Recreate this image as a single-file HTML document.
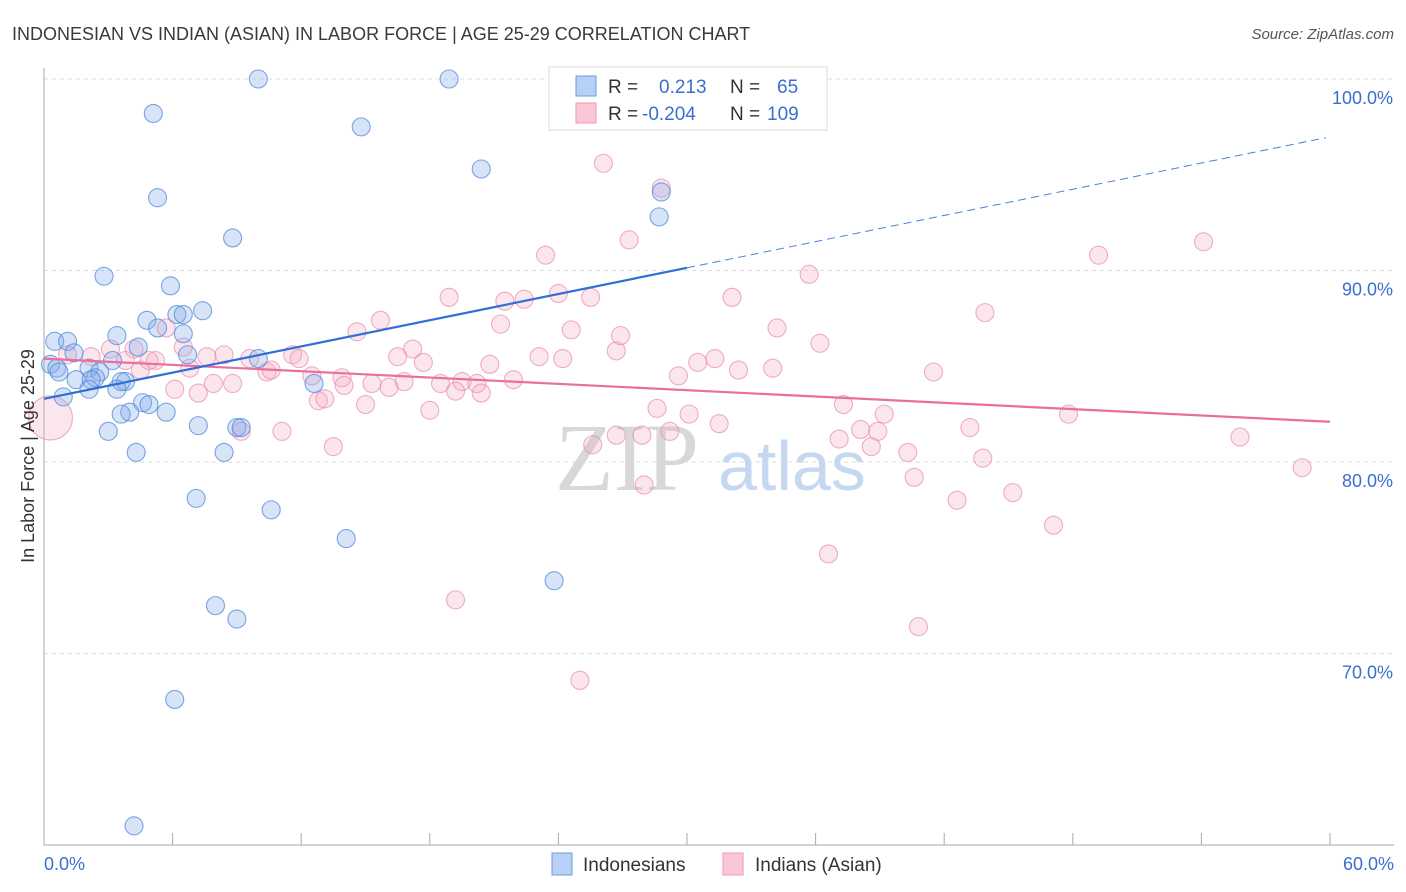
<!DOCTYPE html>
<html><head><meta charset="utf-8"><style>
body{margin:0;background:#fff;font-family:"Liberation Sans",sans-serif}
svg{display:block}
</style></head><body>
<svg id="chart" width="1406" height="892" viewBox="0 0 1406 892" xmlns="http://www.w3.org/2000/svg">
<text x="12" y="40" font-size="18" fill="#3a3a3a">INDONESIAN VS INDIAN (ASIAN) IN LABOR FORCE | AGE 25-29 CORRELATION CHART</text>
<text x="1394" y="39" font-size="15" fill="#555" font-style="italic" text-anchor="end">Source: ZipAtlas.com</text>
<g id="grid"></g>
<g>
<text x="555" y="490" font-size="96" font-family="Liberation Serif,serif" fill="#d8d8d8">ZIP</text>
<text x="718" y="490" font-size="70" fill="#c6d8ef">atlas</text>
</g>
<g id="axes"></g>
<g id="pinkPts"></g>
<g id="bluePts"></g>
<g id="trends"></g>
<text transform="translate(34,456) rotate(-90)" font-size="18" fill="#333" text-anchor="middle">In Labor Force | Age 25-29</text>
<g>
<rect x="549" y="67" width="278" height="63" fill="#fff" stroke="#ddd"/>
<rect x="576" y="76" width="20" height="20" fill="#b7d0f3" stroke="#6b9be0"/>
<rect x="576" y="103" width="20" height="20" fill="#f9c7d6" stroke="#ee9ab6"/>
<text x="608" y="93" font-size="19" fill="#333">R = <tspan fill="#3a6fd0" x="659">0.213</tspan><tspan x="730" fill="#333">N = </tspan><tspan x="777" fill="#3a6fd0">65</tspan></text>
<text x="608" y="120" font-size="19" fill="#333">R = <tspan fill="#3a6fd0" x="642">-0.204</tspan><tspan x="730" fill="#333">N = </tspan><tspan x="767" fill="#3a6fd0">109</tspan></text>
</g>
<g>
<rect x="552" y="853" width="20" height="22" fill="#b7d0f3" stroke="#6b9be0"/>
<text x="583" y="871" font-size="19" fill="#333">Indonesians</text>
<rect x="723" y="853" width="20" height="22" fill="#f9c7d6" stroke="#ee9ab6"/>
<text x="755" y="871" font-size="19" fill="#333">Indians (Asian)</text>
</g>
</svg>
<script>
const yTicks=[100,90,80,70];
const yTickLabels=["100.0%","90.0%","80.0%","70.0%"];
const xTicks=[0,6,12,18,24,30,36,42,48,54,60];
const xEndLabels=["0.0%","60.0%"];
const blueX=[10.0,18.9,5.1,14.8,5.3,20.4,28.8,28.7,8.8,2.8,5.9,7.4,6.2,6.5,4.8,5.3,6.5,3.4,0.5,1.1,4.4,6.7,10.0,3.2,1.4,0.3,0.6,0.7,2.1,2.6,2.4,1.5,2.2,3.8,3.6,2.1,3.4,12.6,0.9,4.6,4.9,5.7,4.0,3.6,7.2,9.0,9.2,3.0,4.3,8.4,7.1,10.6,14.1,23.8,8.0,9.0,6.1,4.2];
const blueY=[100,100,98.2,97.5,93.8,95.3,94.1,92.8,91.7,89.7,89.2,87.9,87.7,87.7,87.4,87.0,86.7,86.6,86.3,86.3,86.0,85.6,85.4,85.3,85.7,85.1,84.9,84.7,84.9,84.7,84.4,84.3,84.3,84.2,84.2,83.8,83.8,84.1,83.4,83.1,83.0,82.6,82.6,82.5,81.9,81.8,81.8,81.6,80.5,80.5,78.1,77.5,76.0,73.8,72.5,71.8,67.6,61.0];
const pinkX=[26.1,28.8,27.3,23.4,35.7,49.2,54.1,18.9,21.5,22.4,24.0,25.5,32.1,43.9,15.7,21.3,14.6,24.6,26.9,34.2,36.2,5.7,6.5,17.2,26.7,23.1,24.2,16.5,17.7,20.8,30.5,31.3,11.6,11.9,9.6,8.4,7.6,3.1,4.2,2.2,1.1,5.2,3.8,4.5,4.9,6.8,10.4,10.6,32.4,34.0,41.5,29.6,12.5,13.9,15.3,16.8,14.0,16.1,7.9,8.8,18.5,19.5,20.2,21.9,6.1,7.2,19.2,20.4,12.8,13.1,15.0,18.0,28.6,30.1,31.5,37.3,39.2,47.8,9.2,11.1,13.5,26.7,27.9,29.2,37.1,38.1,38.9,43.2,55.8,25.6,38.6,40.3,43.8,40.6,58.7,28.0,42.6,45.2,47.1,36.6,19.2,40.8,25.0,0.3];
const pinkY=[95.6,94.3,91.6,90.8,89.8,90.8,91.5,88.6,88.4,88.5,88.8,88.6,88.6,87.8,87.4,87.2,86.8,86.9,86.6,87.0,86.2,87.0,86.0,85.9,85.8,85.5,85.4,85.5,85.2,85.1,85.2,85.4,85.6,85.4,85.4,85.6,85.5,85.9,85.9,85.5,85.6,85.3,85.3,84.8,85.3,84.9,84.7,84.8,84.8,84.9,84.7,84.5,84.5,84.4,84.1,84.2,84.0,83.9,84.1,84.1,84.1,84.2,84.1,84.3,83.8,83.6,83.7,83.6,83.2,83.3,83.0,82.7,82.8,82.5,82.0,83.0,82.5,82.5,81.6,81.6,80.8,81.4,81.4,81.6,81.2,81.7,81.6,81.8,81.3,80.9,80.8,80.5,80.2,79.2,79.7,78.8,78.0,78.4,76.7,75.2,72.8,71.4,68.6,82.3];
const blueTrend=[83.3,0.228];
const pinkTrend=[85.4,-0.055];
const NS="http://www.w3.org/2000/svg";
function xs(v){return 44+v*(1330-44)/60;}
function ys(v){return 845-(v-60)*(845-79)/40;}
function mk(tag,attrs,parent){const e=document.createElementNS(NS,tag);for(const k in attrs)e.setAttribute(k,attrs[k]);parent.appendChild(e);return e;}
const grid=document.getElementById('grid'),axes=document.getElementById('axes');
yTicks.forEach((t,i)=>{
  const l=mk('line',{x1:44,x2:1394,y1:ys(t),y2:ys(t),stroke:'#ddd','stroke-dasharray':'4,4'},grid);
  
  
  const tx=mk('text',{x:1393,y:ys(t)+25,'font-size':18,fill:'#3a6fd0','text-anchor':'end'},axes);
  tx.textContent=yTickLabels[i];
  
  
});
const xa=mk('line',{x1:44,x2:1394,y1:845,y2:845,stroke:'#aaa'},axes);


const ya=mk('line',{x1:44,x2:44,y1:68,y2:845,stroke:'#aaa'},axes);


xTicks.forEach(t=>{
  const l=mk('line',{x1:xs(t),x2:xs(t),y1:833,y2:845,stroke:'#aaa'},axes);
  
  
});
[[0,'start',44],[60,'end',1394]].forEach((d,i)=>{
  const tx=mk('text',{x:d[2],y:870,'font-size':18,fill:'#3a6fd0','text-anchor':d[1]},axes);
  tx.textContent=xEndLabels[i];
  
  
});
const pg=document.getElementById('pinkPts');
pinkX.forEach((x,i)=>{
  const big=(i===pinkX.length-1);
  const c=mk('circle',{cx:xs(x),cy:ys(pinkY[i]),r:big?22:9,fill:'rgba(245,165,192,0.28)',stroke:'rgba(232,140,172,0.7)','stroke-width':1.1},pg);
  
  
});
const bg=document.getElementById('bluePts');
blueX.forEach((x,i)=>{
  const c=mk('circle',{cx:xs(x),cy:ys(blueY[i]),r:9,fill:'rgba(130,172,232,0.32)',stroke:'rgba(80,138,218,0.75)','stroke-width':1.1},bg);
  
  
});
const tg=document.getElementById('trends');
const f=(tr,x)=>tr[0]+tr[1]*x;
const pl=mk('line',{x1:xs(0),y1:ys(f(pinkTrend,0)),x2:xs(60),y2:ys(f(pinkTrend,60)),stroke:'#e8709a','stroke-width':2.2},tg);


const bl=mk('line',{x1:xs(0),y1:ys(f(blueTrend,0)),x2:xs(30),y2:ys(f(blueTrend,30)),stroke:'#2f6fd6','stroke-width':2.2},tg);


const bd=mk('line',{x1:xs(30),y1:ys(f(blueTrend,30)),x2:xs(59.8),y2:ys(f(blueTrend,59.8)),stroke:'#4a80d8','stroke-width':1,'stroke-dasharray':'8,5'},tg);


</script>
</body></html>
